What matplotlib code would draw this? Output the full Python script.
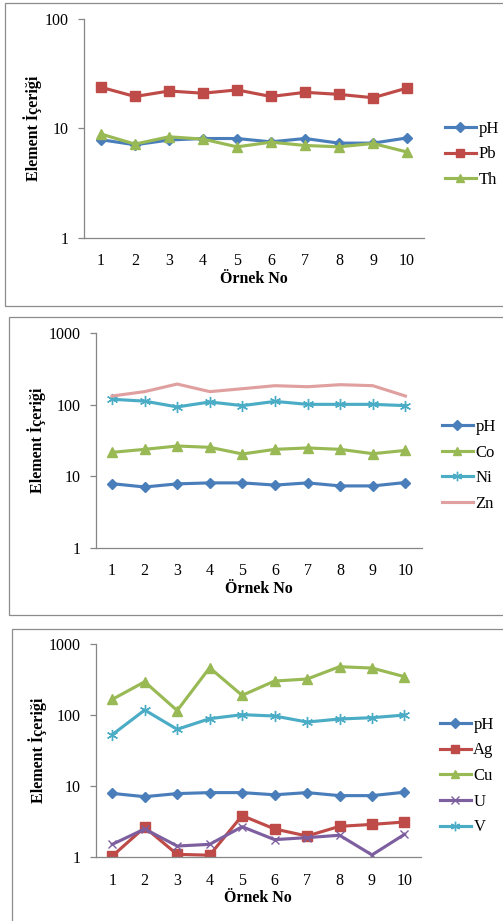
import matplotlib
matplotlib.use("Agg")
import matplotlib.pyplot as plt
from matplotlib.patches import Rectangle
from matplotlib.ticker import FixedLocator, FixedFormatter, NullLocator

W, H = 503, 921
DPI = 100

samples = list(range(1, 11))
ph = [7.9, 7.1, 7.85, 8.1, 8.1, 7.55, 8.1, 7.35, 7.35, 8.2]
pb = [23.8, 19.6, 22.0, 21.0, 22.5, 19.6, 21.4, 20.5, 19.1, 23.4]
th = [8.9, 7.2, 8.4, 8.0, 6.8, 7.5, 7.0, 6.8, 7.3, 6.1]
co = [21.6, 23.8, 26.5, 25.4, 20.5, 23.8, 24.9, 23.8, 20.7, 23.0]
ni = [119, 112, 93, 109, 97, 111, 101, 101, 101, 97]
zn = [132, 152, 194, 152, 167, 184, 178, 190, 184, 132]
ag = [1.04, 2.64, 1.10, 1.07, 3.85, 2.5, 1.99, 2.72, 2.9, 3.13]
cu = [165, 292, 115, 460, 188, 299, 319, 475, 455, 344]
u = [1.52, 2.5, 1.44, 1.52, 2.69, 1.77, 1.89, 2.04, 1.08, 2.1]
v = [52.7, 117, 62.7, 88.5, 100.7, 96.5, 79.4, 87.5, 91.4, 99.5]

BLUE = "#4A7EBB"
RED = "#BE4B48"
GREEN = "#98B954"
CYAN = "#4BACC6"
PINK = "#E0A0A0"
PURPLE = "#7D5FA0"
GRAY = "#868686"

SERIF = ["Liberation Serif", "DejaVu Serif"]
plt.rcParams["font.family"] = SERIF

STYLE = {
    "pH": dict(color=BLUE, marker="D", ms=5.5),
    "Pb": dict(color=RED, marker="s", ms=6.5),
    "Ag": dict(color=RED, marker="s", ms=6.5),
    "Th": dict(color=GREEN, marker="^", ms=7),
    "Co": dict(color=GREEN, marker="^", ms=7),
    "Cu": dict(color=GREEN, marker="^", ms=7),
    "Ni": dict(color=CYAN, marker=(6, 2, 0), ms=8, mew=1.0),
    "V": dict(color=CYAN, marker=(6, 2, 0), ms=8, mew=1.0),
    "Zn": dict(color=PINK, marker=None),
    "U": dict(color=PURPLE, marker="x", ms=6, mew=1.0),
}

fig = plt.figure(figsize=(W / DPI, H / DPI), dpi=DPI)


def fx(x):
    return x / W


def fy(y):
    return 1 - y / H


# panel frames
for (x0, y0, y1) in [(5, 3, 306), (9, 317, 615), (12, 629, 960)]:
    fig.add_artist(Rectangle((fx(x0), fy(y1)), fx(W + 20 - x0), fy(y0) - fy(y1),
                             transform=fig.transFigure, fill=False,
                             edgecolor="#8C8C8C", lw=0.9))


def panel(box, ymax, series, ylab_x, xlab_y, leg_x, leg_y):
    l, r, t, b = box
    ax = fig.add_axes([fx(l), fy(b), fx(r - l), fy(t) - fy(b)])
    for name, vals in series:
        st = dict(STYLE[name])
        c = st.pop("color")
        mk = st.pop("marker")
        if mk is None:
            ax.plot(samples, vals, color=c, lw=2.25, label=name)
        else:
            ax.plot(samples, vals, color=c, lw=2.25, marker=mk,
                    mfc=c, mec=c, label=name, **st)
    ax.set_yscale("log")
    ax.set_ylim(1, ymax)
    ax.set_xlim(0.5, 10.5)
    ticks = [1, 10, 100, 1000][: len(str(ymax))]
    ax.yaxis.set_major_locator(FixedLocator(ticks))
    ax.yaxis.set_major_formatter(FixedFormatter([str(t) for t in ticks]))
    ax.yaxis.set_minor_locator(NullLocator())
    ax.set_xticks(samples)
    ax.set_xticklabels([str(s) for s in samples])
    for s in ("top", "right"):
        ax.spines[s].set_visible(False)
    for s in ("left", "bottom"):
        ax.spines[s].set_color(GRAY)
        ax.spines[s].set_linewidth(0.9)
    ax.tick_params(axis="y", which="major", length=4, width=0.9, color=GRAY,
                   pad=7, labelsize=11.5, direction="out")
    ax.tick_params(axis="x", length=0, pad=11, labelsize=11.5)
    ax.patch.set_alpha(0)
    fig.text(fx(ylab_x), fy((t + b) / 2), "Element İçeriği", rotation=90,
             ha="center", va="center", fontsize=11.5, fontweight="bold")
    fig.text(fx((l + r) / 2), fy(xlab_y), "Örnek No", ha="center",
             va="center", fontsize=11.5, fontweight="bold")
    ax.legend(loc="center left", bbox_to_anchor=(fx(leg_x), fy(leg_y)),
              bbox_transform=fig.transFigure, frameon=False, fontsize=12,
              handlelength=1.85, handletextpad=0.15, labelspacing=0.58,
              borderpad=0, borderaxespad=0, markerscale=0.85)
    return ax


panel((84, 424, 19, 238), 100,
      [("pH", ph), ("Pb", pb), ("Th", th)],
      ylab_x=33, xlab_y=279, leg_x=445, leg_y=154.5)

panel((95.7, 421.7, 333, 548), 1000,
      [("pH", ph), ("Co", co), ("Ni", ni), ("Zn", zn)],
      ylab_x=37, xlab_y=589, leg_x=442, leg_y=465.5)

panel((96, 420.7, 643.7, 857.3), 1000,
      [("pH", ph), ("Ag", ag), ("Cu", cu), ("U", u), ("V", v)],
      ylab_x=38, xlab_y=898, leg_x=440, leg_y=776)

fig.savefig("out.png", dpi=DPI)
